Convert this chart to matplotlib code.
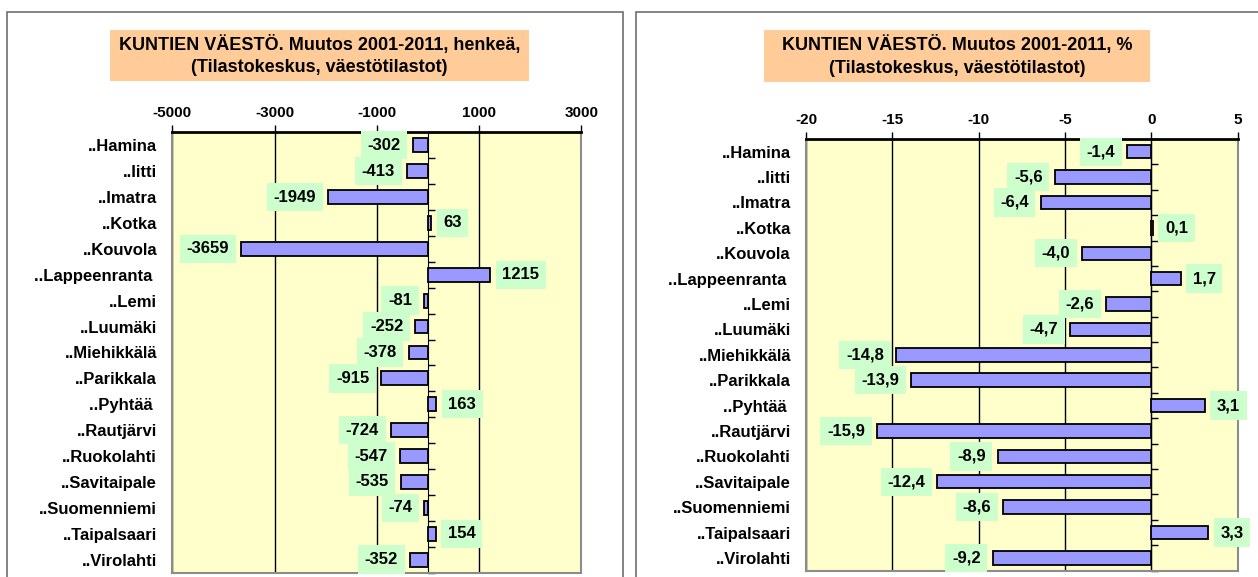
import numpy as np
import matplotlib
matplotlib.use("Agg")
import matplotlib.pyplot as plt
from matplotlib.patches import Rectangle

plt.rcParams['font.family'] = ['Liberation Sans', 'DejaVu Sans']
plt.rcParams['font.weight'] = 'bold'

# Dane
kunnat = ["..Hamina", "..Iitti", "..Imatra", "..Kotka", "..Kouvola", "..Lappeenranta ",
          "..Lemi", "..Luumäki", "..Miehikkälä", "..Parikkala", "..Pyhtää ", "..Rautjärvi",
          "..Ruokolahti", "..Savitaipale", "..Suomenniemi", "..Taipalsaari", "..Virolahti"]
muutos_henkea = [-302, -413, -1949, 63, -3659, 1215, -81, -252, -378, -915, 163,
                 -724, -547, -535, -74, 154, -352]
muutos_pros = [-1.4, -5.6, -6.4, 0.1, -4.0, 1.7, -2.6, -4.7, -14.8, -13.9, 3.1,
               -15.9, -8.9, -12.4, -8.6, 3.3, -9.2]
ticks_henkea = [-5000, -3000, -1000, 1000, 3000]
ticks_pros = [-20, -15, -10, -5, 0, 5]
otsikko_henkea = "KUNTIEN VÄESTÖ. Muutos 2001-2011, henkeä,\n(Tilastokeskus, väestötilastot)"
otsikko_pros = "KUNTIEN VÄESTÖ. Muutos 2001-2011, %\n(Tilastokeskus, väestötilastot)"

W, H = 1258, 577
fig = plt.figure(figsize=(W / 100, H / 100), dpi=100)


def px(x0, y0, x1, y1):
    # piksele (od góry) -> współrzędne figury
    return [x0 / W, 1 - y1 / H, (x1 - x0) / W, (y1 - y0) / H]


def panel(rect, values, ticks, xlim, fmt, title, title_box, frame):
    # ramka wykresu
    fx = px(*frame)
    fig.patches.append(Rectangle((fx[0], fx[1]), fx[2], fx[3], transform=fig.transFigure,
                                 facecolor='none', edgecolor='#6e6e6e', lw=1.2, zorder=0))
    # tytuł
    tb = px(*title_box)
    fig.patches.append(Rectangle((tb[0], tb[1]), tb[2], tb[3], transform=fig.transFigure,
                                 facecolor='#FFCC99', edgecolor='none', zorder=1))
    fig.text(tb[0] + tb[2] / 2, tb[1] + tb[3] / 2, title, ha='center', va='center',
             fontsize=13, fontweight='bold', linespacing=1.4)

    ax = fig.add_axes(px(*rect))
    ax.set_facecolor('#FFFFCC')
    y = np.arange(len(kunnat))
    ax.barh(y, values, height=0.53, color='#9999FF', edgecolor='black', lw=1.3, zorder=3)
    ax.set_xlim(*xlim)
    ax.set_ylim(len(kunnat) - 0.5, -0.5)

    ax.xaxis.tick_top()
    ax.set_xticks(ticks)
    ax.set_xticklabels([str(t) for t in ticks], fontsize=11, fontweight='bold')
    ax.tick_params(axis='x', direction='out', length=5, width=1, pad=4)
    ax.set_yticks(y)
    ax.set_yticklabels(kunnat, fontsize=12, fontweight='bold')
    ax.tick_params(axis='y', length=0, pad=11)
    ax.xaxis.grid(True, color='black', lw=1)
    ax.set_axisbelow(True)

    for s in ['left', 'right', 'bottom']:
        ax.spines[s].set_color('#8c8c8c')
        ax.spines[s].set_linewidth(1.5)
    ax.spines['top'].set_color('black')
    ax.spines['top'].set_linewidth(2)

    # oś pionowa w zerze
    zero = (0 - xlim[0]) / (xlim[1] - xlim[0])
    sec = ax.secondary_yaxis(zero)
    sec.set_yticks(np.arange(-0.5, len(kunnat), 1))
    sec.set_yticklabels([])
    sec.tick_params(direction='out', length=5, width=1)
    sec.spines['left'].set_linewidth(1.6)
    sec.spines['left'].set_zorder(5)

    # etykiety wartości
    for yi, v in zip(y, values):
        off = -12 if v < 0 else 12
        ax.annotate(fmt(v), (v, yi), xytext=(off, 0), textcoords='offset pixels',
                    ha='right' if v < 0 else 'left', va='center', fontsize=12,
                    fontweight='bold', zorder=6,
                    bbox=dict(boxstyle='square,pad=0.4', facecolor='#CCFFCC', edgecolor='none'))
    return ax


panel((172.3, 132.3, 581.5, 572.6), muutos_henkea, ticks_henkea, (-5000, 3000),
      lambda v: str(v), otsikko_henkea, (110, 30, 529, 81), (7.3, 11.7, 622.7, 620))
panel((806.2, 139, 1237.5, 570.6), muutos_pros, ticks_pros, (-20, 5),
      lambda v: f"{v:.1f}".replace('.', ','), otsikko_pros, (764, 30, 1150, 82),
      (636, 11.7, 1300, 620))

plt.savefig("out.png", dpi=100)
